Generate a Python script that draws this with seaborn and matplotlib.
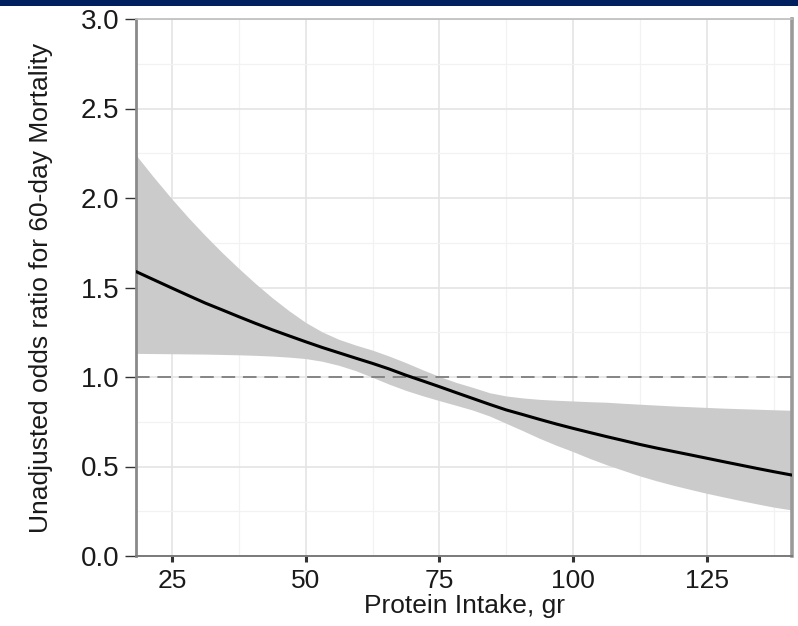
import matplotlib
matplotlib.use("Agg")
import pandas as pd
import seaborn as sns
import matplotlib.pyplot as plt
from matplotlib.patches import Rectangle
from matplotlib.ticker import MultipleLocator

# Protein intake (g) and the estimated odds ratio with its confidence band
protein_g = [18.3, 21.5, 25, 28.1, 31.25, 34.4, 37.5, 40.6, 43.75, 46.9,
             50, 53.1, 56.25, 59.4, 62.5, 65.6, 68.75, 71.9, 75, 78.1,
             81.25, 84.4, 87.5, 90.6, 93.75, 96.9, 100, 103.1, 106.25, 109.4,
             112.5, 115.6, 118.75, 121.9, 125, 128.1, 131.25, 134.4, 137.5, 140.9]
odds_ratio = [1.589, 1.545, 1.497, 1.455, 1.413, 1.375, 1.337, 1.30, 1.264, 1.23,
              1.197, 1.165, 1.135, 1.105, 1.076, 1.045, 1.01, 0.978, 0.946, 0.913,
              0.88, 0.847, 0.816, 0.79, 0.763, 0.737, 0.713, 0.69, 0.667, 0.645,
              0.623, 0.603, 0.584, 0.565, 0.546, 0.527, 0.508, 0.489, 0.471, 0.452]
ci_upper = [2.24, 2.12, 1.995, 1.89, 1.79, 1.695, 1.607, 1.523, 1.443, 1.37,
            1.305, 1.252, 1.21, 1.178, 1.15, 1.117, 1.08, 1.04, 1.003, 0.97,
            0.942, 0.912, 0.894, 0.883, 0.875, 0.87, 0.866, 0.862, 0.859, 0.853,
            0.848, 0.843, 0.838, 0.834, 0.83, 0.826, 0.823, 0.82, 0.817, 0.814]
ci_lower = [1.132, 1.131, 1.130, 1.129, 1.128, 1.126, 1.124, 1.121, 1.117, 1.111,
            1.103, 1.088, 1.065, 1.035, 0.998, 0.96, 0.925, 0.895, 0.868, 0.842,
            0.815, 0.782, 0.741, 0.70, 0.657, 0.618, 0.583, 0.545, 0.51, 0.478,
            0.447, 0.42, 0.395, 0.372, 0.35, 0.33, 0.31, 0.291, 0.273, 0.257]

x_ticks = [25, 50, 75, 100, 125]
y_ticks = [0.0, 0.5, 1.0, 1.5, 2.0, 2.5, 3.0]
y_tick_labels = ["0.0", "0.5", "1.0", "1.5", "2.0", "2.5", "3.0"]
reference_or = 1.0

x_label = "Protein Intake, gr"
y_label = "Unadjusted odds ratio for 60-day Mortality"

df = pd.DataFrame({"protein": protein_g, "odds": odds_ratio,
                   "upper": ci_upper, "lower": ci_lower})

sns.set_theme(style="whitegrid")
plt.rcParams["font.family"] = ["Liberation Sans", "DejaVu Sans"]

W, H = 798, 626
fig = plt.figure(figsize=(W / 100, H / 100), dpi=100)
fig.patch.set_facecolor("white")

# navy banner along the top edge
fig.add_artist(Rectangle((0, 1 - 6 / H), 1, 6 / H, transform=fig.transFigure,
                         facecolor="#001f5f", edgecolor="none"))

ax = fig.add_axes([136 / W, 70 / H, 656 / W, 537 / H])
ax.set_facecolor("white")

ax.fill_between(df["protein"], df["lower"], df["upper"],
                color="#cbcbcb", linewidth=0, zorder=2)
ax.axhline(reference_or, color="#858585", linewidth=1.4,
           linestyle=(0, (7, 4)), zorder=3)
sns.lineplot(data=df, x="protein", y="odds", color="black",
             linewidth=2.2, ax=ax, zorder=4)

ax.set_xlim(18.3, 140.9)
ax.set_ylim(0, 3.0)
ax.set_xticks(x_ticks)
ax.set_xticklabels([str(t) for t in x_ticks])
ax.set_yticks(y_ticks)
ax.set_yticklabels(y_tick_labels)
ax.xaxis.set_minor_locator(MultipleLocator(12.5))
ax.yaxis.set_minor_locator(MultipleLocator(0.25))

ax.grid(which="major", color="#e4e4e4", linewidth=1.2, zorder=0)
ax.grid(which="minor", color="#f2f2f2", linewidth=0.9, zorder=0)
ax.set_axisbelow(True)

for side, col, lw in [("left", "#8a8a8a", 2.0), ("right", "#9a9a9a", 2.6),
                      ("top", "#bdbdbd", 1.2), ("bottom", "#7a7a7a", 1.4)]:
    ax.spines[side].set_visible(True)
    ax.spines[side].set_color(col)
    ax.spines[side].set_linewidth(lw)

ax.tick_params(axis="y", which="major", length=8, width=1.0, color="#333333",
               labelsize=20, pad=4, labelcolor="#1a1a1a", left=True)
ax.tick_params(axis="x", which="major", length=4, width=2.2, color="#333333",
               labelsize=19, pad=5, labelcolor="#1a1a1a", bottom=True)
ax.tick_params(which="minor", length=0)

ax.set_xlabel(x_label, fontsize=19, color="#1a1a1a")
ax.xaxis.set_label_coords(0.5, -0.071)
ax.set_ylabel(y_label, fontsize=19, color="#1a1a1a")
ax.yaxis.set_label_coords(-0.127, 0.5)

fig.savefig("out.png", dpi=100, facecolor="white")
